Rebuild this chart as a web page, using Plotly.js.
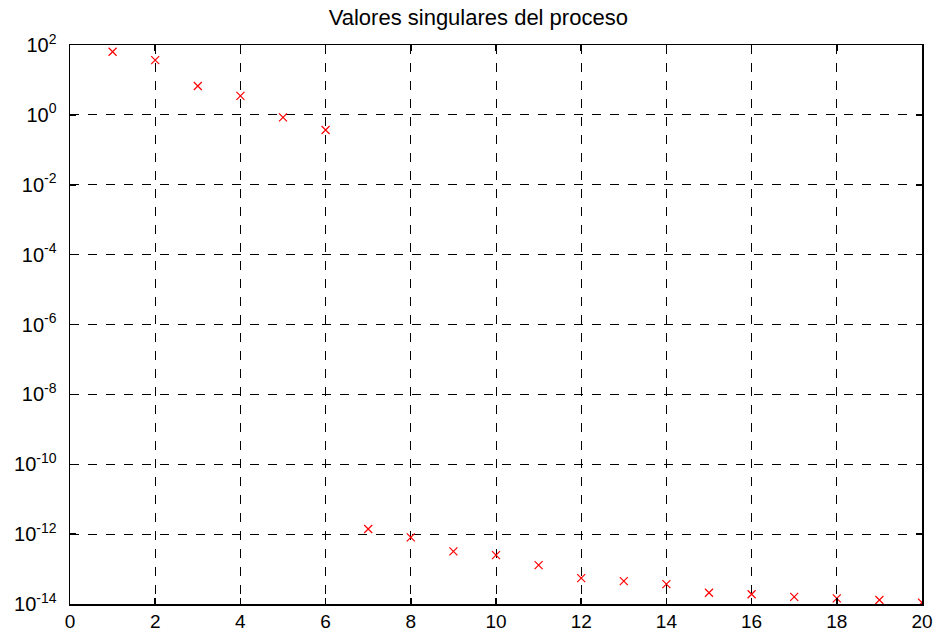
<!DOCTYPE html>
<html><head><meta charset="utf-8">
<script src="https://cdn.plot.ly/plotly-3.0.1.min.js"></script>
<style>html,body{margin:0;padding:0;background:#fff}#chart{width:936px;height:632px}</style>
</head><body><div id="chart"></div>
<script>
const xIndex = [1,2,3,4,5,6,7,8,9,10,11,12,13,14,15,16,17,18,19,20];
const singularValues = [64, 37, 6.7, 3.5, 0.85, 0.37, 1.4e-12, 8.1e-13, 3.2e-13, 2.5e-13, 1.3e-13, 5.5e-14, 4.5e-14, 3.7e-14, 2.1e-14, 1.9e-14, 1.6e-14, 1.45e-14, 1.3e-14, 1.1e-14];
const yTickVals = [1e-14,1e-12,1e-10,1e-8,1e-6,1e-4,1e-2,1e0,1e2];
const yTickText = ['10<sup>-14</sup>','10<sup>-12</sup>','10<sup>-10</sup>','10<sup>-8</sup>','10<sup>-6</sup>','10<sup>-4</sup>','10<sup>-2</sup>','10<sup>0</sup>','10<sup>2</sup>'];
const xTickVals = [0,2,4,6,8,10,12,14,16,18,20];

const trace = {
  x: xIndex, y: singularValues, type: 'scatter', mode: 'markers',
  marker: {symbol: 'x-thin-open', size: 8, color: '#ff0000', line: {color: '#ff0000', width: 1.2}},
  hoverinfo: 'skip', showlegend: false
};
const axisCommon = {
  showline: true, linecolor: '#000', linewidth: 1.5, mirror: 'ticks',
  ticks: 'inside', ticklen: 6, tickcolor: '#000', tickwidth: 1.5,
  showgrid: true, gridcolor: '#000', gridwidth: 1, griddash: 'dash',
  zeroline: false, tickfont: {family: 'Liberation Sans, Arial, sans-serif', size: 20, color: '#000'}
};
const layout = {
  width: 936, height: 632,
  margin: {l: 70, r: 14, t: 45, b: 28},
  paper_bgcolor: '#fff', plot_bgcolor: '#fff',
  title: {text: 'Valores singulares del proceso', x: 0.511, xanchor: 'center', y: 0.985, yanchor: 'top',
          font: {family: 'Liberation Sans, Arial, sans-serif', size: 22, color: '#000'}},
  xaxis: Object.assign({}, axisCommon, {range: [0, 20], tickvals: xTickVals, ticktext: xTickVals.map(String), ticklabelstandoff: 0,
          tickfont: {family: 'Liberation Sans, Arial, sans-serif', size: 19, color: '#000'}}),
  yaxis: Object.assign({}, axisCommon, {type: 'log', range: [-14, 2], tickvals: yTickVals, ticktext: yTickText, ticklabelstandoff: 8})
};
Plotly.newPlot('chart', [trace], layout, {staticPlot: true});
</script></body></html>
